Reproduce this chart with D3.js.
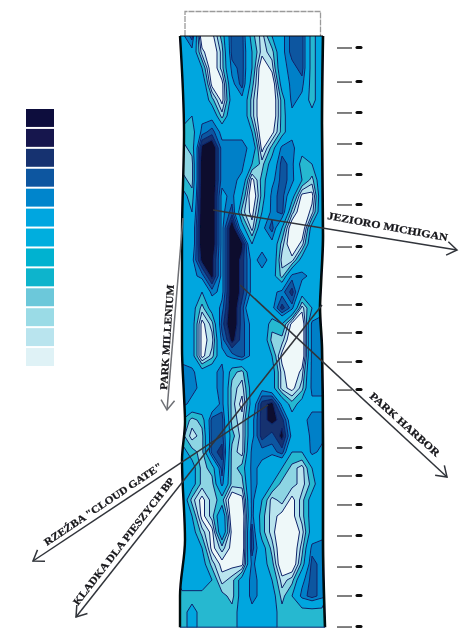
<!DOCTYPE html>
<html>
<head>
<meta charset="utf-8">
<title>Park Millenium</title>
<script src="https://d3js.org/d3.v7.min.js"></script>
<style>
  html, body { margin: 0; padding: 0; background: #fff; }
  svg { display: block; }
  text { font-family: "Liberation Serif", serif; font-weight: bold; fill: #15151a; stroke: #15151a; stroke-width: 0.25; }
</style>
</head>
<body>
<svg id="chart" width="462" height="632"></svg>
<script>
// legend colours, darkest first
const legendColors = ["#0a0f3c", "#14184d", "#12336f", "#0a56a0", "#0485cc", "#03a6e0", "#03aede",
  "#05b2d0", "#0bb4cc", "#6cc8da", "#9adbe6", "#b9e4ee", "#dff2f6"];

// bands used on the map: upper limit of each band and its fill, palest first
const bandLimits = [1.5, 2.5, 3.5, 5, 7.5, 8.5, 9.5, 10.5];
const bandColors = ["#eef8f9", "#b9e4ee", "#8dd5e3", "#25b8d0", "#05a6df", "#0580c8", "#0a56a0", "#12336f", "#070b2e"];

// contour level, 0 = palest, 12 = darkest. 15 columns, one row per line
const gridRows = [
  [7,9,0,1,4,9,9,4,2,5,7,9,9,4,7],
  [7,7,2,0,3,9,9,5,2,3,7,9,9,4,7],
  [7,7,5,0,3,8,9,5,0,2,7,8,9,4,7],
  [7,7,7,1,1,7,9,4,0,0,6,8,8,4,7],
  [7,7,7,4,1,6,7,3,0,0,4,8,7,4,7],
  [7,5,7,7,3,7,7,3,0,0,4,7,7,6,7],
  [4,4,8,9,7,7,7,5,0,1,4,7,6,7,7],
  [3,4,11,12,8,8,8,7,1,4,8,8,6,6,7],
  [3,3,12,12,8,8,8,5,3,6,9,8,4,5,7],
  [4,3,12,12,8,8,7,1,4,7,9,8,5,3,7],
  [6,4,12,12,7,8,5,0,4,8,9,6,1,1,7],
  [7,5,12,12,7,9,3,1,5,8,9,3,0,2,7],
  [7,6,12,12,7,12,6,2,7,9,5,0,0,6,7],
  [7,6,12,12,7,12,11,5,7,7,3,0,2,7,7],
  [7,7,11,11,7,12,10,7,8,7,2,2,6,7,7],
  [7,7,8,11,7,12,10,7,7,6,3,8,8,7,7],
  [7,7,5,8,7,12,10,7,5,7,8,10,6,5,7],
  [7,6,3,6,8,12,9,5,7,7,10,8,2,5,7],
  [7,6,1,3,9,12,9,7,7,4,5,1,0,8,8],
  [7,6,1,2,8,11,9,7,7,3,3,0,0,8,8],
  [7,6,1,3,7,8,9,7,6,5,1,0,0,8,8],
  [8,8,6,7,8,4,3,7,7,6,2,0,2,8,8],
  [8,8,7,7,8,3,2,6,7,6,2,1,3,8,8],
  [8,7,7,6,8,3,1,6,10,11,7,4,6,7,7],
  [5,3,4,9,9,3,2,7,10,11,10,6,7,8,8],
  [4,2,3,9,9,4,2,7,10,9,11,7,6,8,8],
  [6,4,3,9,10,3,2,8,8,8,9,5,5,8,7],
  [7,6,3,4,9,3,4,8,7,5,5,3,2,5,7],
  [7,6,3,3,8,3,3,8,7,5,3,3,2,4,7],
  [7,3,1,3,4,0,1,8,5,2,3,1,3,6,7],
  [7,5,1,3,7,0,0,8,4,2,1,1,3,6,7],
  [7,6,3,1,7,1,0,9,4,2,0,0,2,6,7],
  [7,7,5,1,3,1,0,9,6,3,0,0,3,8,8],
  [7,7,6,3,1,1,1,8,6,4,0,0,4,9,8],
  [7,7,7,5,2,3,6,8,7,5,2,3,7,9,8],
  [4,4,4,4,4,3,6,8,7,6,3,5,8,9,8],
  [4,6,4,4,4,4,6,7,7,6,4,4,4,4,4],
  [4,6,4,4,4,4,6,7,7,6,4,4,4,4,4]
];

// wavy outline of the map, [row, column]
const leftEdge = [[0.5,0.3],[6.5,0.7],[13,0.5],[20,0.5],[23,0.7],[24.6,0.8],[27,0.5],[32,0.8],[35.5,0.3],[37.45,0.3]];
const rightEdge = [[0.5,14.6],[6,14.5],[13,14.6],[16,14.4],[17.5,14.3],[20,14.5],[26,14.6],[32,14.6],[37.45,14.8]];

// station marks down the right side, in rows
const stationRows = [1.25,3.38,5.31,7.25,9.19,11.06,13.69,15.56,17.31,19.06,20.88,22.63,24.44,26.25,28,29.81,31.75,33.69,35.5,37.44];

const labels = [
  { text: "JEZIORO MICHIGAN", from: [327, 219], to: [447, 241] },
  { text: "PARK HARBOR", from: [369, 397], to: [436, 457] },
  { text: "PARK MILLENIUM", from: [167, 390], to: [174, 285] },
  { text: "RZEŹBA \"CLOUD GATE\"", from: [47, 546], to: [163, 468] },
  { text: "KLADKA DLA PIESZYCH BP", from: [78, 606], to: [175, 481] }
];
const leaders = [
  { from: [213, 210], to: [457, 250], color: "#30343a" },
  { from: [240, 285], to: [447, 477], color: "#30343a" },
  { from: [183, 218], to: [167, 410], color: "#6e7075" },
  { from: [268, 405], to: [33, 561], color: "#30343a" },
  { from: [322, 305], to: [76, 617], color: "#30343a" }
];

const nCols = gridRows[0].length, nRows = gridRows.length;
const x = d3.scaleLinear().domain([0, nCols]).range([177, 327]);
const y = d3.scaleLinear().domain([0, nRows]).range([28, 636]);
const svg = d3.select("#chart");

const defs = svg.append("defs");
defs.append("filter").attr("id", "soft").append("feGaussianBlur").attr("stdDeviation", 0.5);

const edgeLine = d3.line().x(d => x(d[1])).y(d => y(d[0])).curve(d3.curveMonotoneY);
const outline = edgeLine(leftEdge) + "L" + edgeLine(rightEdge.slice().reverse()).slice(1) + "Z";
defs.append("clipPath").attr("id", "mapClip").append("path").attr("d", outline);

// legend
const legendY = d3.scaleBand().domain(d3.range(legendColors.length)).range([109, 366]).paddingInner(0.1);
svg.append("g").attr("filter", "url(#soft)").selectAll("rect")
  .data(legendColors)
  .join("rect")
  .attr("x", 26)
  .attr("width", 28)
  .attr("y", (d, i) => legendY(i))
  .attr("height", legendY.bandwidth())
  .attr("fill", d => d);

// top box
svg.append("path")
  .attr("d", "M185,36V11.5H320.5V36")
  .attr("fill", "none")
  .attr("stroke", "#9a9a9a")
  .attr("stroke-width", 1.3)
  .attr("stroke-dasharray", "6 1");

// contours
const contours = d3.contours()
  .size([nCols, nRows])
  .thresholds(bandLimits)(gridRows.flat());
const path = d3.geoPath(d3.geoTransform({
  point(px, py) { this.stream.point(x(px), y(py)); }
}));

const map = svg.append("g").attr("filter", "url(#soft)");
const inner = map.append("g").attr("clip-path", "url(#mapClip)");
inner.append("rect")
  .attr("x", 170).attr("y", 28).attr("width", 170).attr("height", 610)
  .attr("fill", bandColors[0]);
inner.selectAll("path")
  .data(contours)
  .join("path")
  .attr("d", path)
  .attr("fill", (d, i) => bandColors[i + 1])
  .attr("stroke", "#10246a")
  .attr("stroke-width", 1)
  .attr("stroke-linejoin", "round");

// outline of the map
map.append("path").attr("d", edgeLine(leftEdge)).attr("fill", "none").attr("stroke", "#06070c").attr("stroke-width", 2.4);
map.append("path").attr("d", edgeLine(rightEdge)).attr("fill", "none").attr("stroke", "#06070c").attr("stroke-width", 2.6);
map.append("line")
  .attr("x1", x(leftEdge[0][1])).attr("x2", x(rightEdge[0][1]))
  .attr("y1", y(0.5)).attr("y2", y(0.5))
  .attr("stroke", "#06070c").attr("stroke-width", 1);
map.append("line")
  .attr("x1", x(0.3)).attr("x2", x(14.8))
  .attr("y1", y(37.45)).attr("y2", y(37.45))
  .attr("stroke", "#0a2a70").attr("stroke-width", 1);

// station marks
const stations = svg.append("g").attr("filter", "url(#soft)");
stations.selectAll("line.dash")
  .data(stationRows)
  .join("line")
  .attr("class", "dash")
  .attr("x1", x(16)).attr("x2", x(17.5))
  .attr("y1", d => y(d)).attr("y2", d => y(d))
  .attr("stroke", "#606060").attr("stroke-width", 1.6);
stations.selectAll("line.dot")
  .data(stationRows)
  .join("line")
  .attr("class", "dot")
  .attr("x1", x(18)).attr("x2", x(18.4))
  .attr("y1", d => y(d) - 0.5).attr("y2", d => y(d) - 0.5)
  .attr("stroke", "#0c0c0c").attr("stroke-width", 3)
  .attr("stroke-linecap", "round");

// leaders with open arrow heads
const ann = svg.append("g").attr("filter", "url(#soft)");
leaders.forEach(l => {
  const ang = Math.atan2(l.from[1] - l.to[1], l.from[0] - l.to[0]);
  const head = s => [l.to[0] + 12 * Math.cos(ang + s), l.to[1] + 12 * Math.sin(ang + s)];
  ann.append("line")
    .attr("x1", l.from[0]).attr("y1", l.from[1]).attr("x2", l.to[0]).attr("y2", l.to[1])
    .attr("stroke", l.color).attr("stroke-width", 1.5);
  ann.append("path")
    .attr("d", d3.line()([head(0.6), l.to, head(-0.6)]))
    .attr("fill", "none").attr("stroke", l.color).attr("stroke-width", 1.5);
});

// labels run along their leaders
labels.forEach(l => {
  const ang = Math.atan2(l.to[1] - l.from[1], l.to[0] - l.from[0]) * 180 / Math.PI;
  const len = Math.hypot(l.to[0] - l.from[0], l.to[1] - l.from[1]);
  ann.append("text")
    .attr("transform", "translate(" + l.from[0] + "," + l.from[1] + ") rotate(" + ang + ")")
    .attr("font-size", 10.5)
    .attr("textLength", len)
    .attr("lengthAdjust", "spacingAndGlyphs")
    .text(l.text);
});
</script>
</body>
</html>
